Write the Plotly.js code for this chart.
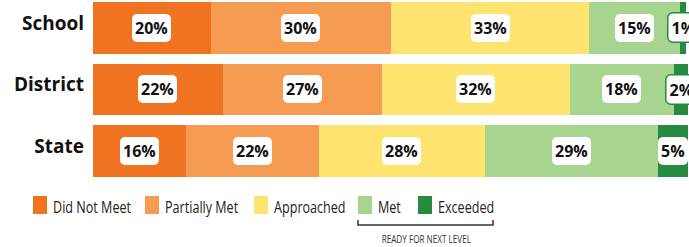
<!DOCTYPE html>
<html>
<head>
<meta charset="utf-8">
<script src="https://cdn.plot.ly/plotly-3.0.1.min.js"></script>
<style>html,body{margin:0;padding:0;background:#fff;}#chart{width:689px;height:247px;}</style>
</head>
<body>
<div id="chart"></div>
<script>
// ---- data ----
const groups = ['School', 'District', 'State'];
const levels = ['Did Not Meet', 'Partially Met', 'Approached', 'Met', 'Exceeded'];
const didNotMeet   = [19.8, 21.8, 15.6];
const partiallyMet = [30.3, 26.7, 22.3];
const approached   = [33.3, 31.6, 27.9];
const met          = [15.3, 17.6, 29.2];
const exceeded     = [1.0, 2.4, 5.0];
const bracketLabel = 'READY FOR NEXT LEVEL';

// ---- styles ----
const colors = ['#F07322', '#F59B52', '#FEE46F', '#A7D590', '#258B41'];
const series = [didNotMeet, partiallyMet, approached, met, exceeded];
const W = 689, H = 247, ML = 93, MR = 1, MT = 0, MB = 65;
const PW = W - ML - MR, PH = H - MT - MB;
const px = x => (x - ML) / PW;          // pixel -> paper x
const py = y => 1 - (y - MT) / PH;      // pixel -> paper y
const legendFont = {family: 'Open Sans, sans-serif', size: 17, color: '#222'};

const traces = series.map((vals, i) => ({
  type: 'bar', orientation: 'h', name: levels[i],
  x: vals, y: groups.map((g, k) => k),
  marker: {color: colors[i], line: {width: 0}},
  hoverinfo: 'skip', showlegend: false
}));

const annotations = [];
groups.forEach((g, k) => {
  let cum = 0;
  series.forEach((vals, i) => {
    const v = vals[k];
    const small = v < 4;
    annotations.push({
      x: cum + v / 2, y: k, xref: 'x', yref: 'y',
      text: Math.round(v) + '%', showarrow: false,
      font: {family: 'Open Sans', size: 16, color: '#111', weight: 'bold'},
      bgcolor: '#ffffff', borderpad: 3,
      bordercolor: small ? colors[4] : 'rgba(0,0,0,0)', borderwidth: small ? 1.5 : 0
    });
    cum += v;
  });
});
const firstLegendAnn = annotations.length;

// legend (drawn manually)
const legendX = [33, 145, 254, 358, 418];
const shapes = [];
levels.forEach((name, i) => {
  shapes.push({type: 'rect', xref: 'paper', yref: 'paper',
    x0: px(legendX[i]), x1: px(legendX[i] + 14), y0: py(196), y1: py(214),
    fillcolor: colors[i], line: {width: 0}});
  annotations.push({xref: 'paper', yref: 'paper', x: px(legendX[i] + 18), y: py(206),
    xanchor: 'left', yanchor: 'middle', showarrow: false, text: name, font: legendFont});
});
shapes.push({type: 'path', xref: 'paper', yref: 'paper',
  path: `M ${px(358)} ${py(220)} L ${px(358)} ${py(225)} L ${px(493)} ${py(225)} L ${px(493)} ${py(220)}`,
  line: {color: '#333', width: 1.5}});
annotations.push({xref: 'paper', yref: 'paper', x: px(426), y: py(238),
  xanchor: 'center', yanchor: 'middle', showarrow: false, text: bracketLabel,
  font: {family: 'Open Sans, sans-serif', size: 11, color: '#333'}});
const lastAnn = annotations.length - 1;

const layout = {
  width: W, height: H,
  margin: {l: ML, r: MR, t: MT, b: MB, pad: 0},
  paper_bgcolor: '#fff', plot_bgcolor: '#fff',
  barmode: 'stack', bargap: 0.155,
  xaxis: {range: [0, 100], visible: false, fixedrange: true},
  yaxis: {range: [2.504, -0.455], tickmode: 'array', tickvals: [0, 1, 2], ticktext: groups,
    showgrid: false, zeroline: false, showline: false, ticks: '', ticklabelstandoff: 8,
    ticklabelshift: 5,
    tickfont: {family: 'Open Sans', size: 19, color: '#111', weight: 'bold'}},
  shapes: shapes, annotations: annotations
};

const condense = 0.74;  // the reference uses a condensed face for the legend
Plotly.newPlot('chart', traces, layout, {staticPlot: true, displayModeBar: false}).then(() => {
  document.querySelectorAll('.annotation').forEach(a => {
    const idx = +a.getAttribute('data-index');
    const bg = a.querySelector('rect.bg');
    if (idx < firstLegendAnn) {
      if (bg) { bg.setAttribute('rx', 5); bg.setAttribute('ry', 5); }
    } else {
      const t = a.querySelector('text');
      if (t) {
        const len = t.getComputedTextLength();
        const newLen = len * condense;
        t.setAttribute('textLength', newLen.toFixed(1));
        t.setAttribute('lengthAdjust', 'spacingAndGlyphs');
        if (idx !== lastAnn) {
          const x0 = parseFloat(t.getAttribute('x') || '0');
          t.setAttribute('x', (x0 - (len - newLen) / 2).toFixed(1));
        }
      }
    }
  });
});
</script>
</body>
</html>
